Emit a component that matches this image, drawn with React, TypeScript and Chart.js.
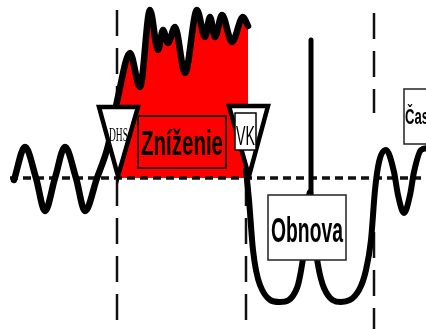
import React, { useEffect, useRef } from "react";
import { Chart, registerables } from "chart.js";
Chart.register(...registerables);

// Time axis (x) and performance level (y); level 0 = normal state (dashed baseline)
const waveTime = [14, 25, 36, 45, 55, 65, 76, 85, 97, 108, 118, 130, 140, 150, 158, 163, 168, 175, 185, 197, 205, 210, 215, 222, 232, 243, 248];
const waveLevel = [-2, 31, 0, -33, 0, 31, 0, -33, 0, 32, 81, 125, 91, 168, 128, 148, 135, 151, 105, 168, 141, 161, 141, 163, 136, 161, 152];
const reductionStartIndex = 10;

const recoveryTime = [246, 249, 253, 260, 280, 297, 302, 306, 310, 314, 318, 324, 341, 359, 366, 371, 375, 379, 386, 394, 398, 404, 410, 414, 421, 428];
const recoveryLevel = [8, -22, -72, -107, -124, -110, -87, -57, -14, -57, -87, -110, -124, -112, -92, -62, -12, 16, 28, 6, -17, -35, -17, 6, 28, 30];

const spikeTime = [311, 311];
const spikeLevel = [-14, 138];

const baselineTime = [10, 432];
const baselineLevel = [0, 0];

const guideTime = [117, 117, 246, 374, 374];
const guideFrom = [168, -2, -2, 165, -54];
const guideTo = [78, -155, -155, 65, -155];

const phaseLabels = ["DHS", "Zníženie", "VK", "Obnova", "Čas"];

const pts = (xs: number[], ys: number[]) => xs.map((x, i) => ({ x, y: ys[i] }));

const shapesPlugin = {
  id: "phaseShapes",
  afterDatasetsDraw(chart: any) {
    const { ctx } = chart;
    const sx = chart.scales.x;
    const sy = chart.scales.y;
    const X = (v: number) => sx.getPixelForValue(v);
    const Y = (v: number) => sy.getPixelForValue(v);

    const fitText = (
      text: string, family: string, weight: string,
      anchorX: number, baseY: number, w: number, cap: number, align: CanvasTextAlign
    ) => {
      ctx.save();
      ctx.font = `${weight} 20px ${family}`;
      const m = ctx.measureText(text);
      const capH = ctx.measureText("H").actualBoundingBoxAscent || 14.3;
      const kx = w / m.width;
      const ky = cap / capH;
      ctx.translate(anchorX, baseY);
      ctx.scale(kx, ky);
      ctx.textAlign = align;
      ctx.textBaseline = "alphabetic";
      ctx.fillStyle = "#000";
      ctx.fillText(text, 0, 0);
      ctx.restore();
    };

    const triangle = (l: number, r: number, top: number, ax: number, ay: number) => {
      ctx.save();
      ctx.beginPath();
      ctx.moveTo(X(l), Y(top));
      ctx.lineTo(X(r), Y(top));
      ctx.lineTo(X(ax), Y(ay));
      ctx.closePath();
      ctx.fillStyle = "#fff";
      ctx.fill();
      ctx.lineWidth = 4.5;
      ctx.lineJoin = "miter";
      ctx.strokeStyle = "#000";
      ctx.stroke();
      ctx.restore();
    };

    const box = (l: number, t: number, r: number, b: number, fill: string, stroke: string, lw: number) => {
      ctx.save();
      const x0 = X(l), y0 = Y(t), x1 = X(r), y1 = Y(b);
      ctx.fillStyle = fill;
      ctx.fillRect(x0, y0, x1 - x0, y1 - y0);
      ctx.lineWidth = lw;
      ctx.strokeStyle = stroke;
      ctx.strokeRect(x0, y0, x1 - x0, y1 - y0);
      ctx.restore();
    };

    // DHS marker
    triangle(99, 138, 71, 118, 2);
    fitText(phaseLabels[0], "'Liberation Serif', serif", "normal", X(118.5), Y(37), 19, 13, "center");

    // Reduction box
    box(138, 62, 226, 10, "#ff0000", "#3a0000", 2);
    fitText(phaseLabels[1], "'Liberation Sans', Arial, sans-serif", "bold", X(182), Y(23), 82, 24, "center");

    // VK marker
    triangle(229, 268, 72, 249, 2);
    box(235, 65, 256, 28, "#fff", "#000", 1.5);
    fitText(phaseLabels[2], "'Liberation Sans', Arial, sans-serif", "normal", X(245.5), Y(33), 19, 19, "center");

    // Recovery box
    box(268, -17, 346, -82, "#fff", "#222", 1.5);
    fitText(phaseLabels[3], "'Liberation Sans', Arial, sans-serif", "bold", X(307), Y(-64), 72, 25, "center");

    // Time box
    box(404, 89, 434, 34, "#fff", "#222", 1.5);
    fitText(phaseLabels[4], "'Liberation Sans', Arial, sans-serif", "bold", X(405), Y(54), 24, 15, "left");
  },
};

export default function App() {
  const ref = useRef<HTMLCanvasElement | null>(null);

  useEffect(() => {
    document.body.style.margin = "0";
    if (!ref.current) return;

    const guides = guideTime.map((t, i) => ({
      data: [{ x: t, y: guideFrom[i] }, { x: t, y: guideTo[i] }],
      borderColor: "#111",
      borderWidth: 2.5,
      borderDash: [26, 12],
      pointRadius: 0,
      tension: 0,
      fill: false,
      order: 3,
    }));

    const chart = new Chart(ref.current, {
      type: "line",
      data: {
        datasets: [
          {
            data: pts(waveTime.slice(reductionStartIndex), waveLevel.slice(reductionStartIndex)),
            borderWidth: 0,
            borderColor: "rgba(0,0,0,0)",
            backgroundColor: "#ff0000",
            fill: "origin",
            pointRadius: 0,
            cubicInterpolationMode: "monotone",
            order: 6,
          },
          {
            data: pts(baselineTime, baselineLevel),
            borderColor: "#111",
            borderWidth: 3.5,
            borderDash: [8, 5],
            pointRadius: 0,
            fill: false,
            order: 4,
          },
          ...guides,
          {
            data: pts(waveTime, waveLevel),
            borderColor: "#000",
            borderWidth: 6.5,
            borderCapStyle: "round",
            borderJoinStyle: "round",
            pointRadius: 0,
            fill: false,
            cubicInterpolationMode: "monotone",
            order: 1,
          },
          {
            data: pts(recoveryTime, recoveryLevel),
            borderColor: "#000",
            borderWidth: 6,
            borderCapStyle: "round",
            borderJoinStyle: "round",
            pointRadius: 0,
            fill: false,
            cubicInterpolationMode: "monotone",
            order: 1,
          },
          {
            data: pts(spikeTime, spikeLevel),
            borderColor: "#000",
            borderWidth: 5,
            borderCapStyle: "round",
            pointRadius: 0,
            fill: false,
            tension: 0,
            order: 0,
          },
        ] as any,
      },
      options: {
        responsive: false,
        animation: false,
        devicePixelRatio: 1,
        events: [],
        layout: { padding: 0 },
        plugins: {
          legend: { display: false },
          tooltip: { enabled: false },
          title: { display: false },
        },
        scales: {
          x: { type: "linear", min: 0, max: 426, display: false },
          y: { type: "linear", min: -151, max: 178, display: false },
        },
      } as any,
      plugins: [shapesPlugin],
    });
    return () => chart.destroy();
  }, []);

  return (
    <div style={{ width: 426, height: 329, background: "#fff" }}>
      <canvas ref={ref} width={426} height={329} style={{ display: "block" }} />
    </div>
  );
}
